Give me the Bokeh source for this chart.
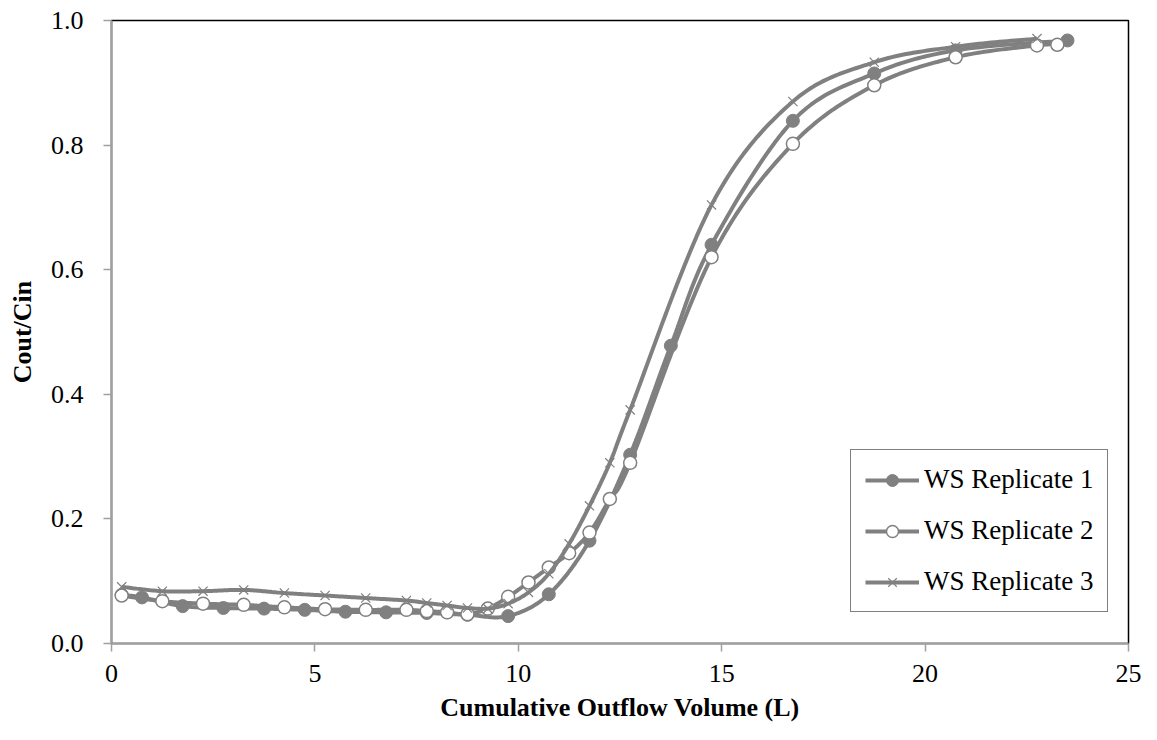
import numpy as np
from bokeh.plotting import figure
from bokeh.models import Legend, LegendItem, Range1d, SingleIntervalTicker, PrintfTickFormatter
from bokeh.embed import file_html
from bokeh.resources import INLINE

# ---- data ----
rep1_x = [0.25, 0.75, 1.75, 2.75, 3.75, 4.75, 5.75, 6.75, 7.75, 8.75, 9.75, 10.75,
          11.75, 12.75, 13.75, 14.75, 16.75, 18.75, 20.75, 23.5]
rep1_y = [0.078, 0.074, 0.060, 0.057, 0.056, 0.054, 0.051, 0.050, 0.049, 0.046, 0.044, 0.079,
          0.165, 0.303, 0.478, 0.640, 0.839, 0.915, 0.952, 0.968]

rep2_x = [0.25, 1.25, 2.25, 3.25, 4.25, 5.25, 6.25, 7.25, 7.75, 8.25, 8.75, 9.25, 9.75,
          10.25, 10.75, 11.25, 11.75, 12.25, 12.75, 14.75, 16.75, 18.75, 20.75, 22.75, 23.25]
rep2_y = [0.077, 0.068, 0.064, 0.062, 0.058, 0.055, 0.054, 0.054, 0.052, 0.050, 0.047, 0.056, 0.075,
          0.098, 0.122, 0.145, 0.178, 0.232, 0.290, 0.620, 0.802, 0.896, 0.941, 0.960, 0.961]

rep3_x = [0.25, 1.25, 2.25, 3.25, 4.25, 5.25, 6.25, 7.25, 7.75, 8.25, 8.75, 9.25, 9.75,
          10.25, 10.75, 11.25, 11.75, 12.25, 12.75, 14.75, 16.75, 18.75, 20.75, 22.75]
rep3_y = [0.091, 0.084, 0.084, 0.086, 0.081, 0.077, 0.073, 0.069, 0.065, 0.061, 0.057, 0.056, 0.064,
          0.082, 0.112, 0.160, 0.221, 0.290, 0.375, 0.704, 0.870, 0.933, 0.958, 0.971]

labels = ["WS Replicate 1", "WS Replicate 2", "WS Replicate 3"]
x_ticks_interval = 5
y_ticks_interval = 0.2

FONT = "Liberation Serif"
GREY = "#808080"


def smooth(xs, ys, n=24):
    """Excel-like smoothed line (Catmull-Rom as cubic Bezier) through the data points."""
    x = np.asarray(xs, float)
    y = np.asarray(ys, float)
    px = np.concatenate([[x[0]], x, [x[-1]]])
    py = np.concatenate([[y[0]], y, [y[-1]]])
    t = np.linspace(0, 1, n)
    ox, oy = [], []
    for i in range(len(x) - 1):
        p0 = np.array([px[i], py[i]])
        p1 = np.array([px[i + 1], py[i + 1]])
        p2 = np.array([px[i + 2], py[i + 2]])
        p3 = np.array([px[i + 3], py[i + 3]])
        c1 = p1 + (p2 - p0) / 6.0
        c2 = p2 - (p3 - p1) / 6.0
        b = ((1 - t) ** 3)[:, None] * p1 + (3 * (1 - t) ** 2 * t)[:, None] * c1 \
            + (3 * (1 - t) * t ** 2)[:, None] * c2 + (t ** 3)[:, None] * p2
        ox.extend(b[:, 0].tolist())
        oy.extend(b[:, 1].tolist())
    return ox, oy


p = figure(width=1141, height=732, output_backend="svg", toolbar_location=None,
           x_range=Range1d(0, 25), y_range=Range1d(0, 1),
           min_border_left=111, min_border_right=13, min_border_top=20, min_border_bottom=89)

p.xgrid.visible = False
p.ygrid.visible = False
p.outline_line_color = "black"
p.outline_line_width = 1.5
p.background_fill_color = "white"
p.border_fill_color = "white"

for ax in (p.xaxis[0], p.yaxis[0]):
    ax.axis_line_color = "#a0a0a0"
    ax.axis_line_width = 2
    ax.major_tick_line_color = "#a0a0a0"
    ax.major_tick_line_width = 1.5
    ax.major_tick_out = 8
    ax.major_tick_in = 0
    ax.minor_tick_line_color = None
    ax.major_label_text_font = FONT
    ax.major_label_text_font_size = "26px"
    ax.major_label_text_color = "black"
    ax.axis_label_text_font = FONT
    ax.axis_label_text_font_size = "26px"
    ax.axis_label_text_font_style = "bold"
    ax.axis_label_text_color = "black"

p.xaxis.ticker = SingleIntervalTicker(interval=x_ticks_interval, num_minor_ticks=0)
p.yaxis.ticker = SingleIntervalTicker(interval=y_ticks_interval, num_minor_ticks=0)
p.yaxis.formatter = PrintfTickFormatter(format="%.1f")
p.xaxis.axis_label = "Cumulative Outflow Volume (L)"
p.yaxis.axis_label = "Cout/Cin"
p.xaxis.major_label_standoff = 13
p.yaxis.major_label_standoff = 20
p.xaxis.axis_label_standoff = 8
p.yaxis.axis_label_standoff = 11

items = []
series = [(rep1_x, rep1_y), (rep2_x, rep2_y), (rep3_x, rep3_y)]
for i, (xs, ys) in enumerate(series):
    sx, sy = smooth(xs, ys)
    lr = p.line(sx, sy, line_color=GREY, line_width=4)
    if i == 0:
        mr = p.scatter(xs, ys, marker="circle", size=13, fill_color=GREY, line_color=GREY, line_width=1)
    elif i == 1:
        mr = p.scatter(xs, ys, marker="circle", size=13, fill_color="white", line_color=GREY, line_width=1.5)
    else:
        mr = p.scatter(xs, ys, marker="x", size=13, line_color=GREY, line_width=1.2)
    items.append(LegendItem(label=labels[i], renderers=[lr, mr]))

legend = Legend(items=items, location=(739, 31))
legend.label_text_font = FONT
legend.label_text_font_size = "27px"
legend.label_text_color = "black"
legend.glyph_width = 54
legend.glyph_height = 30
legend.label_height = 30
legend.spacing = 20
legend.padding = 14
legend.label_standoff = 5
legend.border_line_color = "black"
legend.border_line_width = 1.5
legend.background_fill_alpha = 1.0
p.add_layout(legend, "center")

open("out.html", "w").write(file_html(p, INLINE))
